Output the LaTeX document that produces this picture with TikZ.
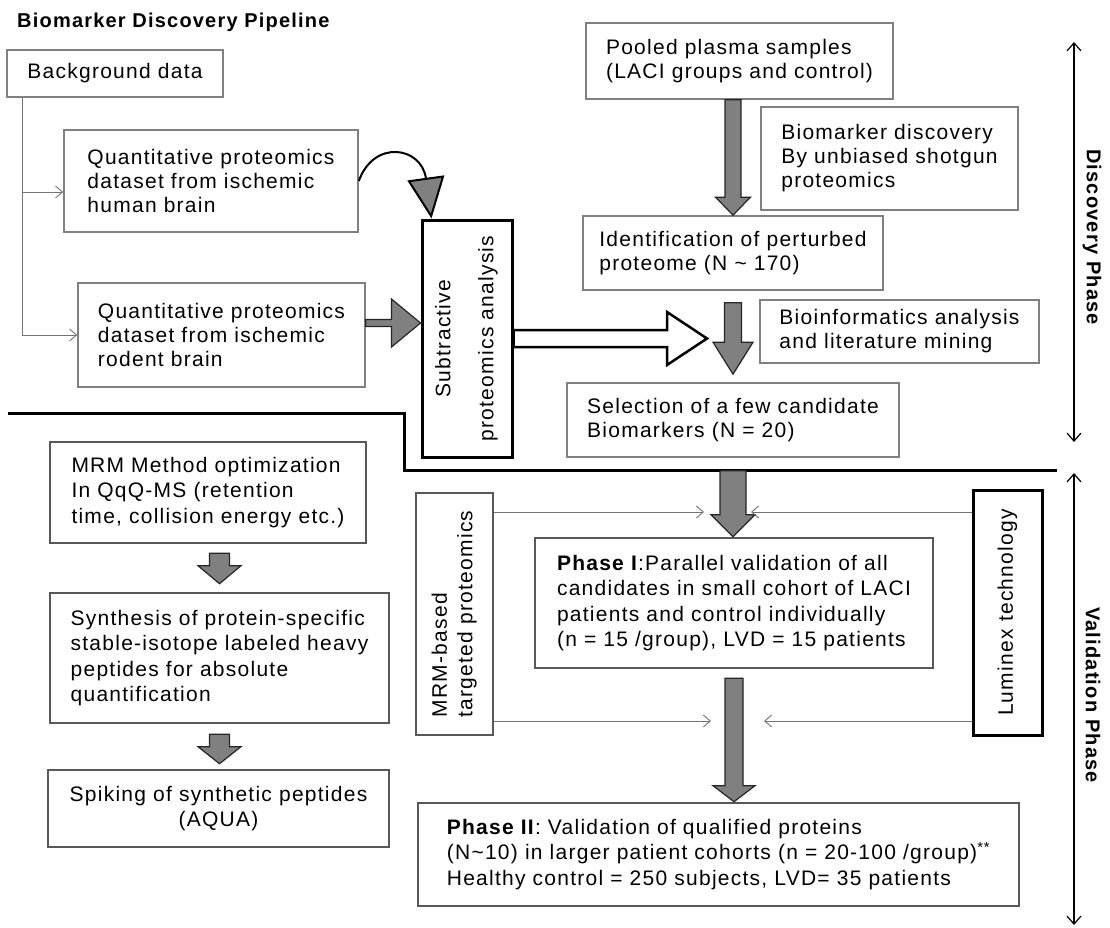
\documentclass[tikz,border=0pt]{standalone}
\usepackage{fontspec}
\usepackage{graphicx}
\setmainfont{Liberation Sans}[LetterSpace=6]
\usetikzlibrary{arrows.meta,calc}
\newcommand{\bxf}{\fontsize{21}{24}\selectfont}
\newcommand{\bxg}{\fontsize{21}{25.5}\selectfont}
\newcommand{\ttlf}{\fontsize{20}{24}\selectfont\bfseries}
% block arrow pointing down: [style]{start}{tip}{shaft half}{head half}{head length}
\newcommand{\blkdown}[6][garrow]{%
  \path[#1] let \p1=(#2), \p2=(#3) in
    (\x1-#4pt,\y1) -- (\x1+#4pt,\y1) -- (\x1+#4pt,\y2+#6pt) -- (\x1+#5pt,\y2+#6pt)
    -- (\x1,\y2) -- (\x1-#5pt,\y2+#6pt) -- (\x1-#4pt,\y2+#6pt) -- cycle;}
% block arrow pointing right
\newcommand{\blkright}[6][garrow]{%
  \path[#1] let \p1=(#2), \p2=(#3) in
    (\x1,\y1+#4pt) -- (\x2-#6pt,\y1+#4pt) -- (\x2-#6pt,\y1+#5pt) -- (\x2,\y1)
    -- (\x2-#6pt,\y1-#5pt) -- (\x2-#6pt,\y1-#4pt) -- (\x1,\y1-#4pt) -- cycle;}
\begin{document}
\begin{tikzpicture}[x=1pt,y=-1pt,
  box/.style={draw=black!50, line width=1.6pt, align=left, font=\bxf, inner sep=0pt},
  lbox/.style={draw=black!65, line width=2.6pt, align=left, font=\bxg, inner sep=0pt},
  kbox/.style={draw=black, line width=3pt, font=\bxf, inner sep=0pt},
  garrow/.style={fill=black!50, draw=black!85, line width=1.2pt},
  hollow/.style={fill=white, draw=black, line width=2.5pt},
  thinarr/.style={draw=black!55, line width=0.9pt, -{Straight Barb[length=7pt,width=12pt]}},
  phasearr/.style={draw=black, line width=1.2pt, {Straight Barb[length=8pt,width=14pt]}-{Straight Barb[length=8pt,width=14pt]}},
  phaselbl/.style={font=\ttlf, inner sep=0pt, rotate=-90},
  divider/.style={draw=black, line width=3pt}]
\fill[white] (0,0) rectangle (1110,928);
\useasboundingbox (0,0) rectangle (1110,928);

% title
\node[font=\ttlf, inner sep=0pt, anchor=base west] (title) at (17,28) {Biomarker Discovery Pipeline};

% discovery side (left)
\node[box, minimum width=216, minimum height=47] (bg) at (115,73.5) {Background data};
\node[box, minimum width=294, minimum height=102] (human) at (211,181) {Quantitative proteomics\\dataset from ischemic\\human brain};
\node[box, minimum width=287, minimum height=104] (rodent) at (221.5,335) {Quantitative proteomics\\dataset from ischemic\\rodent brain};
\node[kbox, minimum width=90, minimum height=237] (subtr) at (467,338.5)
  {\rotatebox{90}{\begin{tabular}{@{}c@{}}Subtractive\\[19pt]proteomics analysis\end{tabular}}};

% discovery side (right)
\node[box, minimum width=307, minimum height=76] (pooled) at (739.5,61) {Pooled plasma samples\\(LACI groups and control)};
\node[box, minimum width=257, minimum height=103] (biodisc) at (889.5,158.5) {Biomarker discovery\\By unbiased shotgun\\proteomics};
\node[box, minimum width=300, minimum height=74] (ident) at (733,253) {Identification of perturbed\\proteome (N \textasciitilde{} 170)};
\node[box, minimum width=279, minimum height=63] (bioinf) at (899.5,331.5) {Bioinformatics analysis\\and literature mining};
\node[box, minimum width=332, minimum height=74] (select) at (733,420) {Selection of a few candidate\\Biomarkers (N = 20)};

% validation side
\node[lbox, minimum width=316, minimum height=101] (mrmopt) at (208,492.5) {MRM Method optimization\\In QqQ-MS (retention\\time, collision energy etc.)};
\node[lbox, minimum width=339, minimum height=130] (synth) at (219.5,658) {Synthesis of protein-specific\\stable-isotope labeled heavy\\peptides for absolute\\quantification};
\node[lbox, align=center, minimum width=341, minimum height=77] (spike) at (218.5,808.5) {Spiking of synthetic peptides\\(AQUA)};
\node[lbox, minimum width=77, minimum height=242] (mrmb) at (454.5,614)
  {\rotatebox{90}{\begin{tabular}{@{}l@{}}MRM-based\\targeted proteomics\end{tabular}}};
\node[kbox, minimum width=69, minimum height=245] (lumi) at (1007.5,612.5) {\rotatebox{90}{Luminex technology}};
\node[lbox, minimum width=398, minimum height=130] (phase1) at (734,603)
  {\textbf{Phase I}:Parallel validation of all\\candidates in small cohort of LACI\\patients and control individually\\(n = 15 /group), LVD = 15 patients};
\node[lbox, minimum width=601, minimum height=103] (phase2) at (718.5,854.5)
  {\textbf{Phase II}: Validation of qualified proteins\\(N\textasciitilde10) in larger patient cohorts (n = 20-100 /group)\textsuperscript{**}\\Healthy control = 250 subjects, LVD= 35 patients};

% phase separator
\draw[divider] (8,413) -- (404,413) -- (404,470) -- (1057,470);

% phase arrows and labels
\coordinate (d1) at (1074,42);
\coordinate (d2) at (1074,442);
\coordinate (v1) at (1074,473);
\coordinate (v2) at (1074,925);
\draw[phasearr] (d1) -- (d2);
\draw[phasearr] (v1) -- (v2);
\node[phaselbl] (dlab) at (1092,237) {Discovery Phase};
\node[phaselbl] (vlab) at (1093,695) {Validation Phase};

% background connectors
\coordinate (bgx) at ($(bg.south west)+(16,0)$);
\draw[thinarr] (bgx) |- ($(human.west)+(0,11)$);
\draw[thinarr] (bgx) |- (rodent.west);

% human -> subtractive (curved)
\coordinate (ctip) at ($(subtr.north west)+(11,0)$);
\coordinate (cc1) at ($(human.east)+(15,-42)$);
\coordinate (cc2) at ($(ctip)+(-10,-72)$);
\draw[line width=2pt, -{Triangle[width=37pt,length=41pt,fill=black!50]}] (human.east) .. controls (cc1) and (cc2) .. (ctip);

% rodent -> subtractive
\coordinate (ra) at ($(rodent.east)+(0,-12)$);
\blkright{ra}{ra -| subtr.west}{3.5}{24}{29}

% subtractive -> selection (hollow)
\coordinate (htip) at (707,338.5);
\blkright[hollow]{subtr.east}{htip}{8.5}{26.5}{40}

% main vertical block arrows
\blkdown{ident.north |- pooled.south}{ident.north}{8}{17.5}{18}
\blkdown{$(ident.south)+(0,12)$}{$(ident.south |- select.north)+(0,-8)$}{8.5}{20}{32}
\blkdown{$(select.south)+(0,13)$}{select.south |- phase1.north}{13}{22}{22}
\blkdown{$(phase1.south)+(0,9)$}{phase1.south |- phase2.north}{9}{21}{16}

% left column block arrows
\blkdown{$(synth.north |- mrmopt.south)+(0,9)$}{$(synth.north)+(0,-8)$}{10}{21.5}{18}
\blkdown{$(synth.south)+(0,10)$}{$(spike.north)+(0,-5)$}{10}{21.5}{17}

% MRM-based and Luminex connectors
\coordinate (m1) at (704,512);
\coordinate (m2) at (711,721);
\coordinate (l1) at (751,512);
\coordinate (l2) at (764,721);
\draw[thinarr] (mrmb.east |- m1) -- (m1);
\draw[thinarr] (mrmb.east |- m2) -- (m2);
\draw[thinarr] (lumi.west |- l1) -- (l1);
\draw[thinarr] (lumi.west |- l2) -- (l2);
\end{tikzpicture}
\end{document}
